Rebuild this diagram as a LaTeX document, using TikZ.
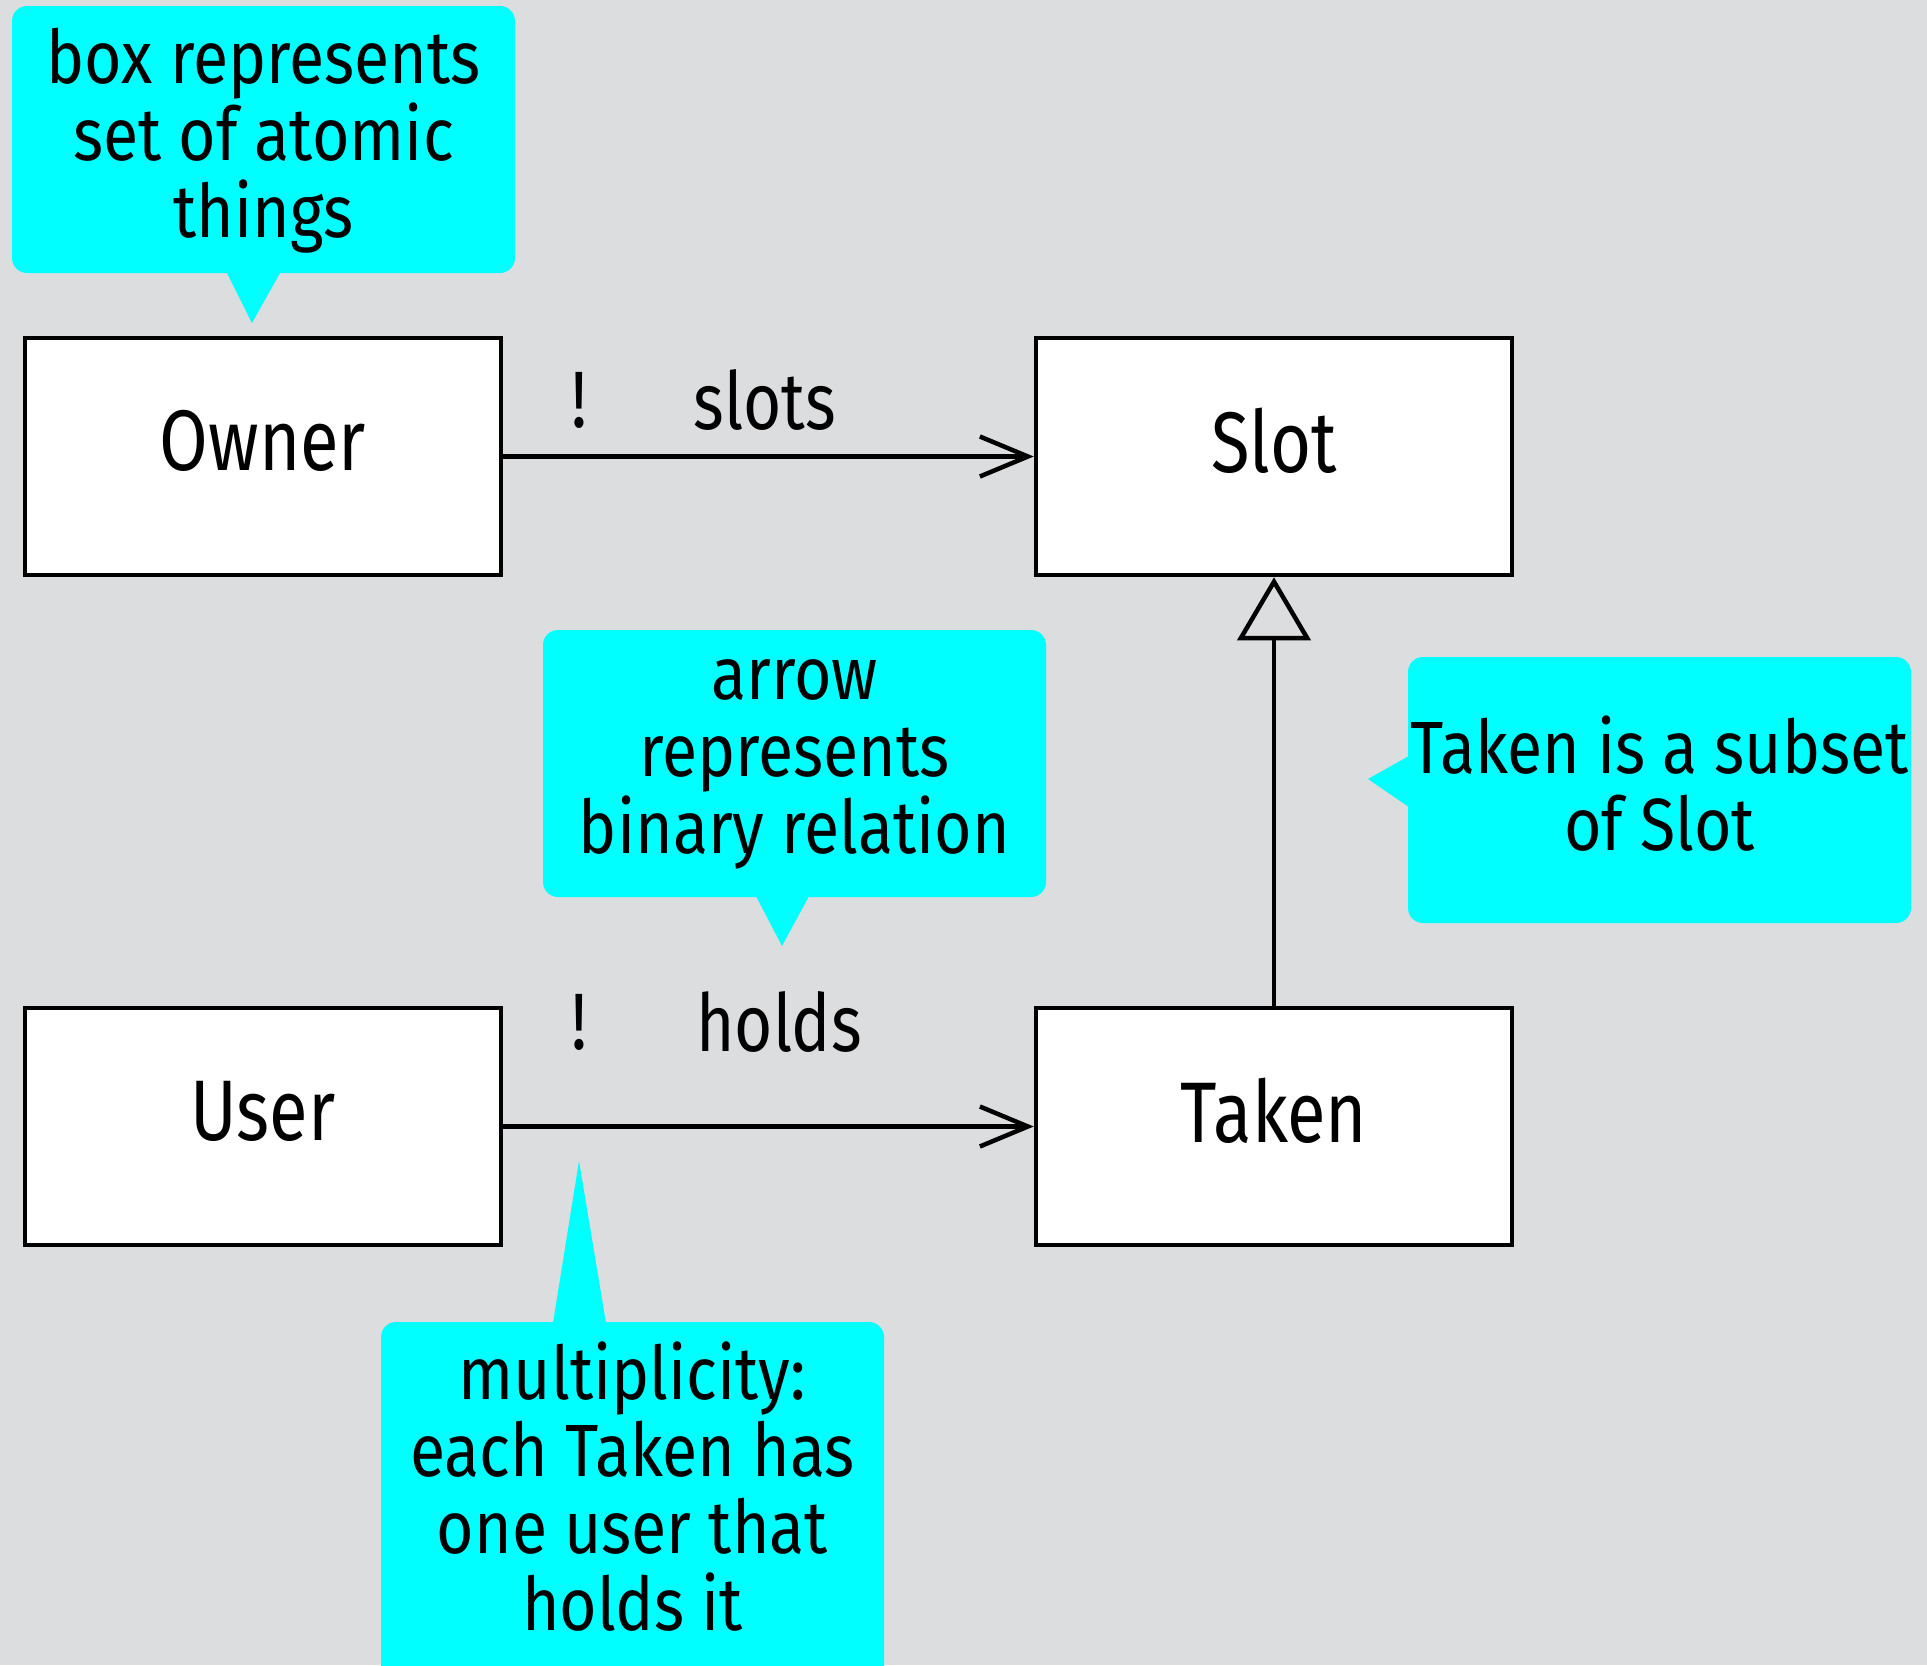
\documentclass[tikz,border=0pt]{standalone}
\usepackage{fontspec}
\setmainfont{Fira Sans}
\newfontfamily\notefont[FakeStretch=0.87]{Fira Sans}
\newfontfamily\labfont[FakeStretch=0.82]{Fira Sans}
\usetikzlibrary{arrows.meta}
\definecolor{bgc}{RGB}{220,221,223}
\definecolor{cyannote}{RGB}{0,255,255}
\begin{document}
\begin{tikzpicture}[x=1pt,y=-1pt,
  cls/.style={draw=black, line width=4.5pt, fill=white, minimum width=476pt,
    minimum height=237pt, inner sep=0pt, text depth=32pt,
    font=\labfont\fontsize{86}{90}\selectfont},
  lab/.style={inner sep=0pt, font=\labfont\fontsize{80}{84}\selectfont},
  callout/.style={fill=cyannote, rounded corners=15pt, inner sep=0pt, align=center,
    minimum width=503pt, text depth=14pt, font=\notefont\fontsize{74}{77}\selectfont},
  assoc/.style={line width=4.5pt, -{Straight Barb[length=48pt,width=40pt,line width=4.5pt]}},
  gen/.style={line width=4.5pt, -{Triangle[open,length=63pt,width=73pt,line width=4.5pt]}}
]
\path[fill=bgc, use as bounding box] (0,0) rectangle (1927,1665);

% callouts
\node[callout, minimum height=267pt] (c1) at (263.5,139.5) {box represents\\set of atomic\\things};
\node[callout, minimum height=267pt] (c2) at (794.5,763.5) {arrow\\represents\\binary relation};
\node[callout, minimum height=266pt] (c3) at (1659.5,790) {Taken is a subset\\of Slot};
\node[callout, minimum height=368pt, text depth=40pt] (c4) at (632.5,1506) {multiplicity:\\each Taken has\\one user that\\holds it};

\coordinate (t1) at (252,323);
\coordinate (t2) at (782,946);
\coordinate (t3) at (1368,779);
\coordinate (t4) at (579,1161);
\fill[cyannote] ([xshift=-37pt,yshift=1pt]c1.south) -- (t1) -- ([xshift=17pt,yshift=1pt]c1.south) -- cycle;
\fill[cyannote] ([xshift=-38.5pt,yshift=1pt]c2.south) -- (t2) -- ([xshift=14.5pt,yshift=1pt]c2.south) -- cycle;
\fill[cyannote] ([xshift=1pt,yshift=34pt]c3.west) -- (t3) -- ([xshift=1pt,yshift=-17pt]c3.west) -- cycle;
\fill[cyannote] ([xshift=-79.5pt,yshift=-1pt]c4.north) -- (t4) -- ([xshift=-26.5pt,yshift=-1pt]c4.north) -- cycle;

% classes
\node[cls] (owner) at (263,456.5) {Owner};
\node[cls] (slot) at (1274,456.5) {Slot};
\node[cls] (user) at (263,1126.5) {User};
\node[cls] (taken) at (1274,1126.5) {Taken};

% relations
\draw[assoc] (owner.east) -- (slot.west);
\draw[assoc] (user.east) -- (taken.west);
\draw[gen] (taken.north) -- (slot.south);

\node[lab] (m1) at (579,400) {!};
\node[lab] (r1) at (765,400) {slots};
\node[lab] (m2) at (579,1022) {!};
\node[lab] (r2) at (779,1022) {holds};
\end{tikzpicture}
\end{document}
